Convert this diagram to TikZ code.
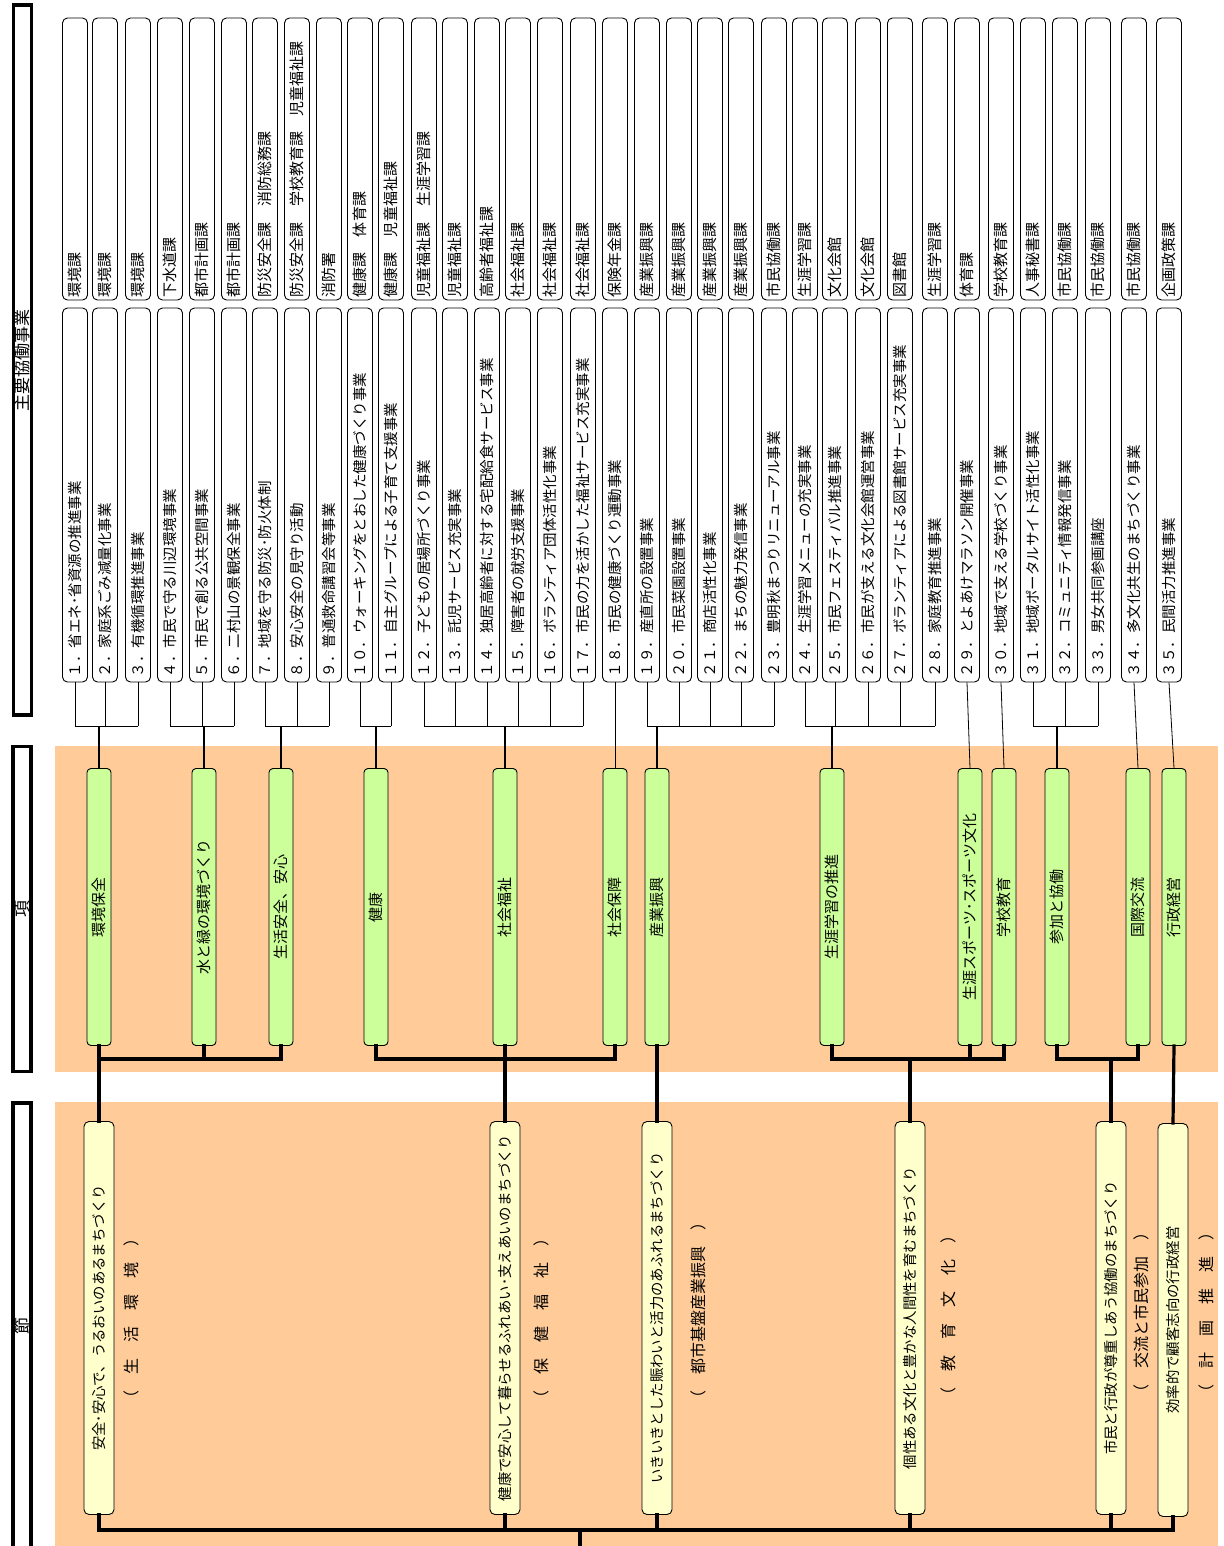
\documentclass[tikz,border=0pt]{standalone}
\usepackage{graphicx}
\usepackage{fontspec}
\setmainfont{Noto Sans CJK JP}
\usetikzlibrary{positioning}
\definecolor{bandorange}{HTML}{FFCC99}
\definecolor{koulime}{HTML}{CCFF99}
\definecolor{setsucream}{HTML}{FFFFCC}
\newcommand{\vtxt}[2]{\rotatebox{90}{\makebox[#1][l]{#2}}}
\newcommand{\vmid}[1]{\rotatebox{90}{#1}}

\begin{document}
\begin{tikzpicture}[x=1pt,y=-1pt,
headbox/.style={draw,line width=3.5pt,minimum width=18pt,inner sep=0pt,font=\fontsize{17}{19}\selectfont},
deptbox/.style={draw,rounded corners=5pt,line width=0.9pt,minimum width=25pt,minimum height=282pt,inner sep=0pt,font=\fontsize{15}{17}\selectfont},
itembox/.style={draw,rounded corners=5pt,line width=0.9pt,minimum width=25pt,minimum height=374pt,inner sep=0pt,font=\fontsize{14.5}{16}\selectfont},
koubox/.style={draw,fill=koulime,rounded corners=4pt,line width=0.9pt,minimum width=24pt,minimum height=277pt,inner sep=0pt,font=\fontsize{15}{17}\selectfont},
setsubox/.style={draw,fill=setsucream,rounded corners=5pt,line width=0.9pt,minimum width=30pt,minimum height=393pt,inner sep=0pt,font=\fontsize{14.4}{16}\selectfont},
subtitle/.style={inner sep=0pt,font=\fontsize{16}{18}\selectfont},
stemline/.style={line width=0.8pt},
trunkline/.style={line width=2pt},
heavyline/.style={line width=3.2pt,line cap=rect}]
\useasboundingbox (0,0) rectangle (1223,1546);
\clip (0,0) rectangle (1223,1546);
% background bands
\fill[bandorange] (55,746) rectangle (1218,1072);
\fill[bandorange] (55,1102) rectangle (1218,1550);
% row headers
\node[headbox,minimum height=710pt] (hjigyo) at (22.5,360) {\vmid{主要協働事業}};
\node[headbox,minimum height=325pt] (hkou) at (22,909) {\vmid{項}};
\node[headbox,minimum height=446pt] (hsetsu) at (22,1326) {\vmid{節}};
% departments
\foreach \n/\x/\lbl in {1/75/環境課,2/105/環境課,3/138/環境課,4/170/下水道課,5/202/都市計画課,
  6/234/都市計画課,7/265/防災安全課　消防総務課,8/297/防災安全課　学校教育課　児童福祉課,
  9/329/消防署,10/360/健康課　体育課,11/391/健康課　児童福祉課,12/424/児童福祉課　生涯学習課,
  13/455/児童福祉課,14/487/高齢者福祉課,15/518/社会福祉課,16/550/社会福祉課,17/583/社会福祉課,
  18/615/保険年金課,19/647/産業振興課,20/679/産業振興課,21/710/産業振興課,22/741/産業振興課,
  23/774/市民協働課,24/805/生涯学習課,25/835/文化会館,26/868/文化会館,27/900/図書館,
  28/935/生涯学習課,29/967/体育課,30/1001/学校教育課,31/1033/人事秘書課,32/1065/市民協働課,
  33/1098/市民協働課,34/1134/市民協働課,35/1169/企画政策課}
  \node[deptbox] (d\n) at (\x,159) {\vtxt{276pt}{\lbl}};
% projects
\foreach \n/\x/\lbl in {1/75/１．省エネ･省資源の推進事業,2/105/２．家庭系ごみ減量化事業,
  3/138/３．有機循環推進事業,4/170/４．市民で守る川辺環境事業,5/202/５．市民で創る公共空間事業,
  6/234/６．二村山の景観保全事業,7/265/７．地域を守る防災･防火体制,8/297/８．安心安全の見守り活動,
  9/329/９．普通救命講習会等事業,10/360/１０．ウォーキングをとおした健康づくり事業,
  11/391/１１．自主グループによる子育て支援事業,12/424/１２．子どもの居場所づくり事業,
  13/455/１３．託児サービス充実事業,14/487/１４．独居高齢者に対する宅配給食サービス事業,
  15/518/１５．障害者の就労支援事業,16/550/１６．ボランティア団体活性化事業,
  17/583/１７．市民の力を活かした福祉サービス充実事業,18/615/１８．市民の健康づくり運動事業,
  19/647/１９．産直所の設置事業,20/679/２０．市民菜園設置事業,21/710/２１．商店活性化事業,
  22/741/２２．まちの魅力発信事業,23/774/２３．豊明秋まつりリニューアル事業,
  24/805/２４．生涯学習メニューの充実事業,25/835/２５．市民フェスティバル推進事業,
  26/868/２６．市民が支える文化会館運営事業,27/900/２７．ボランティアによる図書館サービス充実事業,
  28/935/２８．家庭教育推進事業,29/967/２９．とよあけマラソン開催事業,
  30/1001/３０．地域で支える学校づくり事業,31/1033/３１．地域ポータルサイト活性化事業,
  32/1065/３２．コミュニティ情報発信事業,33/1098/３３．男女共同参画講座,
  34/1134/３４．多文化共生のまちづくり事業,35/1169/３５．民間活力推進事業}
  \node[itembox] (i\n) at (\x,495) {\vtxt{364pt}{\lbl}};
% items (kou)
\node[koubox] (kankyo) at (99,907) {\vmid{環境保全}};
\node[koubox] (mizu) at (204,907) {\vmid{水と緑の環境づくり}};
\node[koubox] (anshin) at (281,907) {\vmid{生活安全、安心}};
\node[koubox] (kenko) at (376,907) {\vmid{健康}};
\node[koubox] (fukushi) at (505,907) {\vmid{社会福祉}};
\node[koubox] (hosho) at (615,907) {\vmid{社会保障}};
\node[koubox] (sangyo) at (657,907) {\vmid{産業振興}};
\node[koubox] (shogai) at (832,907) {\vmid{生涯学習の推進}};
\node[koubox] (sports) at (970,907) {\vmid{生涯スポーツ･スポーツ文化}};
\node[koubox] (gakko) at (1004,907) {\vmid{学校教育}};
\node[koubox] (kyodo) at (1057,907) {\vmid{参加と協働}};
\node[koubox] (kokusai) at (1138,907) {\vmid{国際交流}};
\node[koubox] (gyosei) at (1174,907) {\vmid{行政経営}};
% sections (setsu)
\node[setsubox] (seikatsu) at (99,1318) {\vmid{安全･安心で、うるおいのあるまちづくり}};
\node[setsubox] (hoken) at (505,1318) {\vmid{健康で安心して暮らせるふれあい･支えあいのまちづくり}};
\node[setsubox] (toshi) at (657,1318) {\vmid{いきいきとした賑わいと活力のあふれるまちづくり}};
\node[setsubox] (kyoiku) at (910,1318) {\vmid{個性ある文化と豊かな人間性を育むまちづくり}};
\node[setsubox] (shimin) at (1111,1318) {\vmid{市民と行政が尊重しあう協働のまちづくり}};
\node[setsubox] (keikaku) at (1173,1320) {\vmid{効率的で顧客志向の行政経営}};
\node[subtitle] (sub1) at (131,1318) {\vmid{（　生　活　環　境　）}};
\node[subtitle] (sub2) at (541,1318) {\vmid{（　保　健　福　祉　）}};
\node[subtitle] (sub3) at (698,1310) {\vmid{（　都市基盤産業振興　）}};
\node[subtitle] (sub4) at (948,1315) {\vmid{（　教　育　文　化　）}};
\node[subtitle] (sub5) at (1141,1312) {\vmid{（　交流と市民参加　）}};
\node[subtitle] (sub6) at (1206,1312) {\vmid{（　計　画　推　進　）}};
% connectors projects -> items
\coordinate (topbar) at (0,726);
\coordinate (lowbar) at (0,1059);
\coordinate (basebar) at (0,1530);
\foreach \n in {1,2,3,4,5,6,7,8,9,10,11,12,13,14,15,16,17,19,20,21,22,23,24,25,26,27,28,31,32,33}
  \draw[stemline] (i\n.south) -- (i\n.south |- topbar);
\foreach \a/\b in {1/3,4/6,7/9,10/11,12/17,19/23,24/28,31/33}
  \draw[stemline] (i\a.south |- topbar) -- (i\b.south |- topbar);
\foreach \k in {kankyo,mizu,anshin,kenko,fukushi,sangyo,shogai,kyodo}
  \draw[trunkline] (\k.north |- topbar) -- (\k.north);
\draw[stemline] (i18.south) -- (hosho.north);
\draw[stemline] (i29.south) -- (sports.north);
\draw[stemline] (i30.south) -- (gakko.north);
\draw[stemline] (i34.south) -- (kokusai.north);
\draw[stemline] (i35.south) -- (gyosei.north);
% connectors items -> sections
\draw[heavyline] (kankyo.south) |- (anshin.south |- lowbar) -- (anshin.south);
\draw[heavyline] (mizu.south) -- (mizu.south |- lowbar);
\draw[heavyline] (kenko.south) |- (hosho.south |- lowbar) -- (hosho.south);
\draw[heavyline] (shogai.south) |- (gakko.south |- lowbar) -- (gakko.south);
\draw[heavyline] (sports.south) -- (sports.south |- lowbar);
\draw[heavyline] (kyodo.south) |- (kokusai.south |- lowbar) -- (kokusai.south);
\draw[heavyline] (kankyo.south |- lowbar) -- (seikatsu.north);
\draw[heavyline] (fukushi.south) -- (hoken.north);
\draw[heavyline] (sangyo.south) -- (toshi.north);
\draw[heavyline] (kyoiku.north |- lowbar) -- (kyoiku.north);
\draw[heavyline] (shimin.north |- lowbar) -- (shimin.north);
\draw[heavyline] (gyosei.south) -- (keikaku.north);
% sections -> root
\foreach \s in {seikatsu,hoken,toshi,kyoiku,shimin,keikaku}
  \draw[heavyline] (\s.south) -- (\s.south |- basebar);
\draw[heavyline] (seikatsu.south |- basebar) -- (keikaku.south |- basebar);
\coordinate (root) at (580,1530);
\draw[heavyline] (root) -- ++(0,20);
\end{tikzpicture}
\end{document}
